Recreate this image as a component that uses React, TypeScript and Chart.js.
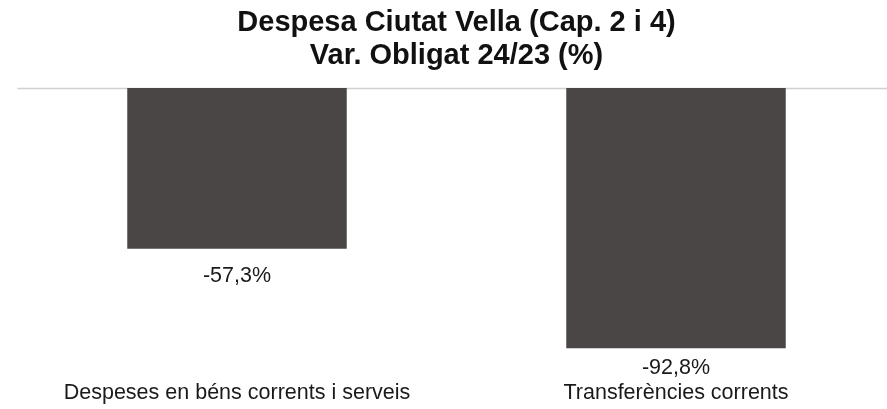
import React, { useEffect, useRef } from "react";
import { Chart, registerables } from "chart.js";

Chart.register(...registerables);

const titleLines = ["Despesa Ciutat Vella (Cap. 2 i 4)", "Var. Obligat 24/23 (%)"];
const categories = ["Despeses en béns corrents i serveis", "Transferències corrents"];
const variation = [-57.3, -92.8];
const yMin = -100;
const yMax = 0;

const FONT = "'Liberation Sans', Arial, sans-serif";
const BAR_COLOR = "#4a4645";

const fmt = (v: number) => v.toFixed(1).replace(".", ",") + "%";

// Thin grey baseline at zero across the plot area
const zeroLine = {
  id: "zeroLine",
  beforeDatasetsDraw(chart: any) {
    const { ctx, chartArea, scales } = chart;
    const y = Math.round(scales.y.getPixelForValue(0)) + 0.5;
    ctx.save();
    ctx.strokeStyle = "#d0d0d0";
    ctx.lineWidth = 1.5;
    ctx.beginPath();
    ctx.moveTo(chartArea.left, y);
    ctx.lineTo(chartArea.right, y);
    ctx.stroke();
    ctx.restore();
  },
};

// Value labels beneath each bar end, kept inside the plot area
const valueLabels = {
  id: "valueLabels",
  afterDatasetsDraw(chart: any) {
    const { ctx, chartArea } = chart;
    const meta = chart.getDatasetMeta(0);
    ctx.save();
    ctx.font = `21.5px ${FONT}`;
    ctx.fillStyle = "#1a1a1a";
    ctx.textAlign = "center";
    ctx.textBaseline = "middle";
    meta.data.forEach((bar: any, i: number) => {
      const y = Math.min(bar.y + 27, chartArea.bottom);
      ctx.fillText(fmt(variation[i]), bar.x, y);
    });
    ctx.restore();
  },
};

export default function App() {
  const canvasRef = useRef<HTMLCanvasElement | null>(null);

  useEffect(() => {
    if (!canvasRef.current) return;
    const chart = new Chart(canvasRef.current, {
      type: "bar",
      data: {
        labels: categories,
        datasets: [
          {
            data: variation,
            backgroundColor: BAR_COLOR,
            borderWidth: 0,
            barPercentage: 0.5,
            categoryPercentage: 1,
          },
        ],
      },
      options: {
        responsive: false,
        animation: false,
        devicePixelRatio: 1,
        layout: { padding: { left: 17.5, right: 4.5, top: 0, bottom: -9.3 } },
        plugins: {
          legend: { display: false },
          tooltip: { enabled: false },
          title: {
            display: true,
            text: titleLines,
            color: "#111111",
            font: { family: FONT, size: 29, weight: "bold", lineHeight: 1.138 },
            padding: { top: 6, bottom: 16 },
          },
        },
        scales: {
          x: {
            grid: { display: false, drawTicks: false },
            border: { display: false },
            ticks: {
              color: "#1a1a1a",
              font: { family: FONT, size: 21.5 },
              padding: 12,
              maxRotation: 0,
            },
          },
          y: {
            display: false,
            min: yMin,
            max: yMax,
          },
        },
      },
      plugins: [zeroLine, valueLabels],
    });
    return () => chart.destroy();
  }, []);

  return (
    <div style={{ position: "absolute", left: 0, top: 0, width: 900, height: 409, overflow: "hidden", background: "#ffffff" }}>
      <canvas ref={canvasRef} width={900} height={409} />
    </div>
  );
}
